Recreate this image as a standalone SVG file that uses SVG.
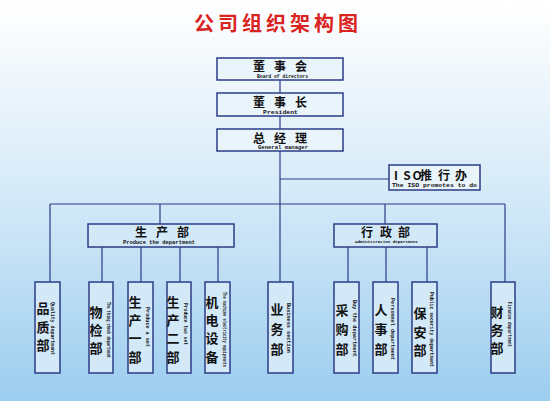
<svg xmlns="http://www.w3.org/2000/svg" width="550" height="401" viewBox="0 0 550 401">
<defs>
<linearGradient id="bg" x1="0" y1="0" x2="0" y2="1">
<stop offset="0" stop-color="#ffffff"/>
<stop offset="0.12" stop-color="#f6fafd"/>
<stop offset="0.5" stop-color="#d3e9f8"/>
<stop offset="1" stop-color="#9ccdef"/>
</linearGradient>
<style>
.box{fill:#eaf4fb;stroke:#2b3d87;stroke-width:1.5}
.sbox{fill:#d3e9f8;stroke:#2b3d87;stroke-width:1.5}
.ln{stroke:#2b3d87;stroke-width:1.2;fill:none}
.cn{font-family:"Noto Sans CJK SC","Noto Sans CJK JP",sans-serif;font-weight:bold;fill:#111;text-anchor:middle}
.en{font-family:"Liberation Mono","DejaVu Sans Mono",monospace;font-weight:bold;fill:#111}
.t{font-family:"Noto Sans CJK SC","Noto Sans CJK JP",sans-serif;font-weight:bold;fill:#d9231e;font-size:20px;letter-spacing:4px}
</style>
</defs>
<rect x="0" y="0" width="550" height="401" fill="url(#bg)"/>
<text class="t" x="278" y="31" text-anchor="middle">公司组织架构图</text>

<g id="connectors">
<path class="ln" d="M280 80V93M280 116V129M280 151V282M280 179H389M50 204H505M50 204V282M160 204V224M385 204V224M505 204V282M102 247V282M141 247V282M180 247V282M218 247V282M348 247V282M386 247V282M427 247V282"/>
</g>

<g id="board">
<rect class="box" x="217" y="58" width="126" height="22"/>
<text class="cn" font-size="12" x="259 280 301" y="71">董事会</text>
<text class="en" font-size="5" x="257" y="77.5" textLength="51" lengthAdjust="spacingAndGlyphs">Board of directors</text>
</g>
<g id="president">
<rect class="box" x="217" y="93" width="126" height="23"/>
<text class="cn" font-size="12" x="259 280 301" y="107">董事长</text>
<text class="en" font-size="5.5" x="263" y="113.5" textLength="35" lengthAdjust="spacingAndGlyphs">President</text>
</g>
<g id="gm">
<rect class="box" x="217" y="129" width="126" height="22"/>
<text class="cn" font-size="12" x="259 280 301" y="142.5">总经理</text>
<text class="en" font-size="5" x="258" y="149" textLength="50" lengthAdjust="spacingAndGlyphs">General manager</text>
</g>
<g id="iso">
<rect class="box" x="389" y="165" width="91" height="25"/>
<text class="cn" font-size="12" x="396 407 417 426 444 461" y="180">ISO推行办</text>
<text class="en" font-size="5.5" x="392" y="187" textLength="85" lengthAdjust="spacingAndGlyphs">The ISO promotes to do</text>
</g>
<g id="produce">
<rect class="sbox" x="88" y="224" width="146" height="23"/>
<text class="cn" font-size="12" x="141 162 183" y="237">生产部</text>
<text class="en" font-size="5.5" x="123" y="244" textLength="72" lengthAdjust="spacingAndGlyphs">Produce the department</text>
</g>
<g id="admin">
<rect class="sbox" x="334" y="224" width="103" height="23"/>
<text class="cn" font-size="12" x="367 386 404" y="237">行政部</text>
<text class="en" font-size="4" x="355" y="243" textLength="63" lengthAdjust="spacingAndGlyphs">Administration department</text>
</g>

<g id="quality">
<rect class="sbox" x="35" y="282" width="25" height="91"/>
<text class="cn" font-size="13" x="43" y="313">品</text><text class="cn" font-size="13" x="43" y="332">质</text><text class="cn" font-size="13" x="43" y="350">部</text>
<text class="en" font-size="5" transform="translate(51,302) rotate(90)" textLength="53" lengthAdjust="spacingAndGlyphs">Quality department</text>
</g>
<g id="inspect">
<rect class="sbox" x="89" y="282" width="24" height="91"/>
<text class="cn" font-size="13" x="96" y="317">物</text><text class="cn" font-size="13" x="96" y="335">检</text><text class="cn" font-size="13" x="96" y="353">部</text>
<text class="en" font-size="4.5" transform="translate(107,302) rotate(90)" textLength="56" lengthAdjust="spacingAndGlyphs">The thing check department</text>
</g>
<g id="prod1">
<rect class="sbox" x="128" y="282" width="25" height="91"/>
<text class="cn" font-size="13" x="135" y="307">生</text><text class="cn" font-size="13" x="135" y="325">产</text><text class="cn" font-size="13" x="135" y="343">一</text><text class="cn" font-size="13" x="135" y="362">部</text>
<text class="en" font-size="5" transform="translate(146,307) rotate(90)" textLength="40" lengthAdjust="spacingAndGlyphs">Produce a set</text>
</g>
<g id="prod2">
<rect class="sbox" x="167" y="282" width="24" height="91"/>
<text class="cn" font-size="13" x="173" y="307">生</text><text class="cn" font-size="13" x="173" y="325">产</text><text class="cn" font-size="13" x="173" y="343">二</text><text class="cn" font-size="13" x="173" y="362">部</text>
<text class="en" font-size="5" transform="translate(184,303) rotate(90)" textLength="42" lengthAdjust="spacingAndGlyphs">Produce two set</text>
</g>
<g id="mech">
<rect class="sbox" x="205" y="282" width="25" height="91"/>
<text class="cn" font-size="13" x="212" y="307">机</text><text class="cn" font-size="13" x="212" y="325">电</text><text class="cn" font-size="13" x="212" y="343">设</text><text class="cn" font-size="13" x="212" y="362">备</text>
<text class="en" font-size="4.5" transform="translate(223,292) rotate(90)" textLength="75" lengthAdjust="spacingAndGlyphs">The machine electricity equipments</text>
</g>
<g id="business">
<rect class="sbox" x="268" y="282" width="25" height="91"/>
<text class="cn" font-size="13" x="277" y="314">业</text><text class="cn" font-size="13" x="277" y="334">务</text><text class="cn" font-size="13" x="277" y="354">部</text>
<text class="en" font-size="5" transform="translate(287,303) rotate(90)" textLength="50" lengthAdjust="spacingAndGlyphs">Business section</text>
</g>
<g id="purchase">
<rect class="sbox" x="334" y="282" width="25" height="91"/>
<text class="cn" font-size="13" x="342" y="315">采</text><text class="cn" font-size="13" x="342" y="334">购</text><text class="cn" font-size="13" x="342" y="354">部</text>
<text class="en" font-size="5" transform="translate(353,300) rotate(90)" textLength="57" lengthAdjust="spacingAndGlyphs">Buy the department</text>
</g>
<g id="personnel">
<rect class="sbox" x="373" y="282" width="25" height="91"/>
<text class="cn" font-size="13" x="381" y="315">人</text><text class="cn" font-size="13" x="381" y="334">事</text><text class="cn" font-size="13" x="381" y="354">部</text>
<text class="en" font-size="5" transform="translate(391,298) rotate(90)" textLength="62" lengthAdjust="spacingAndGlyphs">Personnel department</text>
</g>
<g id="security">
<rect class="sbox" x="412" y="282" width="25" height="91"/>
<text class="cn" font-size="13" x="420" y="318">保</text><text class="cn" font-size="13" x="420" y="337">安</text><text class="cn" font-size="13" x="420" y="355">部</text>
<text class="en" font-size="5" transform="translate(430,292) rotate(90)" textLength="75" lengthAdjust="spacingAndGlyphs">Public security department</text>
</g>
<g id="finance">
<rect class="sbox" x="491" y="282" width="24" height="91"/>
<text class="cn" font-size="13" x="497" y="317">财</text><text class="cn" font-size="13" x="497" y="335">务</text><text class="cn" font-size="13" x="497" y="353">部</text>
<text class="en" font-size="5" transform="translate(508,302) rotate(90)" textLength="45" lengthAdjust="spacingAndGlyphs">Finance department</text>
</g>
</svg>
